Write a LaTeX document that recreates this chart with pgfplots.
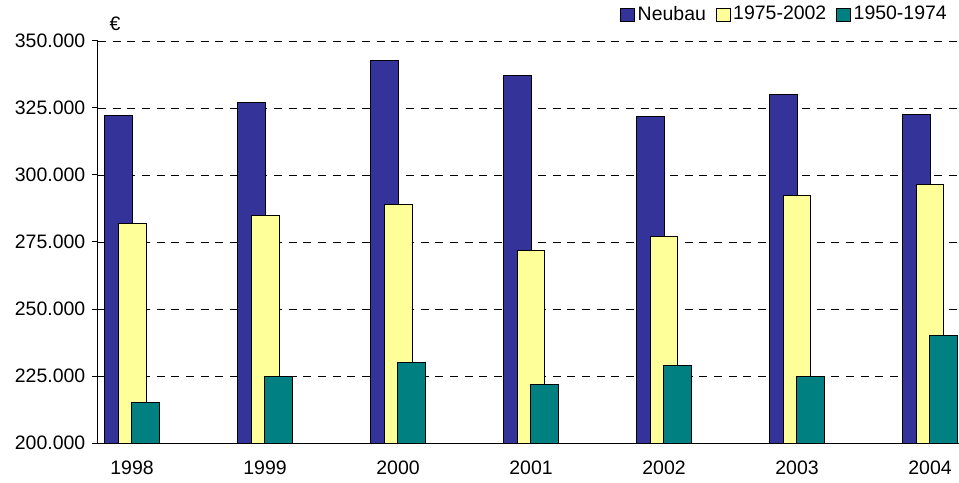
\documentclass[border=0pt]{standalone}
\usepackage{pgfplots}
\pgfplotsset{compat=1.18}
\usepackage{fontspec}
\setmainfont{Liberation Sans}
\definecolor{cblue}{HTML}{333399}
\definecolor{cyel}{HTML}{FFFF99}
\definecolor{cteal}{HTML}{008080}
\begin{document}
\fontsize{14.6}{17}\selectfont
\begin{tikzpicture}
\begin{axis}[
  scale only axis, width=645.75pt, height=301.5pt,
  xmin=-0.256, xmax=6.218, ymin=200000, ymax=350000,
  axis lines*=left,
  axis line style={black, line width=0.75pt},
  xtick={0,1,2,3,4,5,6},
  xticklabels={1998,1999,2000,2001,2002,2003,2004},
  xtick style={draw=none},
  xticklabel style={yshift=-4pt},
  ytick={200000,225000,250000,275000,300000,325000,350000},
  scaled y ticks=false,
  yticklabel style={/pgf/number format/.cd, fixed, 1000 sep={.}, assume math mode=true},
  tick align=outside, major tick length=4.5pt,
  ytick style={black, line width=0.75pt},
  ymajorgrids,
  major grid style={black, line width=0.6pt, dash pattern=on 6pt off 5pt},
  tick label style={font=\fontsize{14.6}{17}\selectfont},
  legend style={at={(0.9895,1.066)}, anchor=east, draw=none, fill=none,
    legend columns=-1, inner sep=0pt,
    font=\fontsize{14.6}{17}\selectfont,
    /tikz/every even column/.append style={column sep=5pt},
    nodes={inner xsep=2.2pt}},
  legend image code/.code={\draw[#1, draw=black, line width=0.6pt] (0pt,-4.9pt) rectangle (10.5pt,4.9pt);},
]
\addplot[ybar, bar width=0.21, bar shift=-0.105, fill=cblue, draw=black, line width=0.75pt]
  coordinates {(0,322100) (1,327100) (2,342900) (3,337000) (4,322000) (5,330100) (6,322400)};
\addlegendentry{Neubau}
\addplot[ybar, bar width=0.21, bar shift=0, fill=cyel, draw=black, line width=0.75pt]
  coordinates {(0,282000) (1,285000) (2,289100) (3,272000) (4,277000) (5,292400) (6,296300)};
\addlegendentry{1975-2002}
\addplot[ybar, bar width=0.21, bar shift=0.102, fill=cteal, draw=black, line width=0.75pt]
  coordinates {(0,215000) (1,225000) (2,230000) (3,222000) (4,229000) (5,225000) (6,240000)};
\addlegendentry{1950-1974}
\end{axis}
\node at ([xshift=12.75pt, yshift=12.75pt]current axis.north west) {€};
\pgfresetboundingbox
\path[use as bounding box] ([xshift=-73.5pt,yshift=-29.25pt]current axis.south west) rectangle ([yshift=30.75pt]current axis.north east);
\end{tikzpicture}
\end{document}
